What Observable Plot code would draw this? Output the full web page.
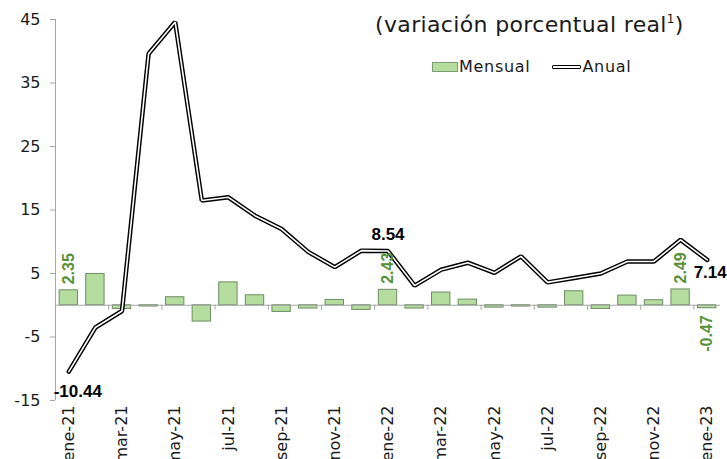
<!DOCTYPE html>
<html><head><meta charset="utf-8">
<script src="https://cdn.jsdelivr.net/npm/d3@7"></script>
<script src="https://cdn.jsdelivr.net/npm/@observablehq/plot@0.6"></script>
<style>
body{margin:0;background:#fff;}
#wrap{position:relative;width:727px;height:459px;overflow:hidden;font-family:"DejaVu Sans",sans-serif;color:#1a1a1a;}
#title{position:absolute;left:375px;top:12px;font-size:22px;letter-spacing:0.35px;white-space:nowrap;}
#title sup{font-size:12px;vertical-align:9px;}
#legend{position:absolute;left:432px;top:57px;font-size:16px;letter-spacing:0.7px;white-space:nowrap;display:flex;align-items:center;}
.sw1{display:inline-block;width:24px;height:8px;background:#b5dd9f;border:1px solid #7e9c72;margin-right:1px;}
.sw2{display:inline-block;width:27px;height:2px;background:#fff;border:1.5px solid #000;border-radius:1px;margin-left:22px;margin-right:1px;}
#chart{position:absolute;left:0;top:0;}
</style></head>
<body>
<div id="wrap">
<div id="chart"></div>
<div id="title">(variación porcentual real<sup>1</sup>)</div>
<div id="legend"><span class="sw1"></span>Mensual<span class="sw2"></span>Anual</div>
</div>
<script>
const months = ["ene-21","feb-21","mar-21","abr-21","may-21","jun-21","jul-21","ago-21","sep-21","oct-21","nov-21","dic-21",
  "ene-22","feb-22","mar-22","abr-22","may-22","jun-22","jul-22","ago-22","sep-22","oct-22","nov-22","dic-22","ene-23"];
const mensual = [2.35, 4.93, -0.58, -0.2, 1.26, -2.57, 3.6, 1.57, -1.05, -0.52, 0.84, -0.73,
  2.43, -0.52, 2.0, 0.89, -0.37, -0.2, -0.37, 2.2, -0.58, 1.52, 0.79, 2.49, -0.47];
const anual = [-10.44, -3.5, -0.9, 39.6, 44.6, 16.5, 17.0, 14.1, 12.0, 8.4, 6.0, 8.6,
  8.54, 3.1, 5.6, 6.7, 5.1, 7.7, 3.6, 4.3, 5.0, 6.9, 6.9, 10.3, 7.14];
const tickLabels = ["ene-21","mar-21","may-21","jul-21","sep-21","nov-21","ene-22","mar-22","may-22","jul-22","sep-22","nov-22","ene-23"];
const yTicks = [-15, -5, 5, 15, 25, 35, 45];
const greenUp = ["ene-21","ene-22","dic-22"];
const greenDown = ["ene-23"];

const data = months.map((m, i) => ({m, mensual: mensual[i], anual: anual[i]}));
const gray = "#a6a6a6";
const step = (727 - 55 - 7) / months.length;

const chart = Plot.plot({
  width: 727, height: 459,
  marginLeft: 55, marginRight: 7, marginTop: 19, marginBottom: 59,
  style: {fontFamily: "DejaVu Sans, sans-serif", background: "transparent", color: "#1a1a1a", overflow: "visible"},
  x: {domain: months, paddingInner: 0.31, paddingOuter: 0.155, round: false, axis: null, label: null},
  y: {domain: [-15, 45], axis: null, label: null},
  marks: [
    Plot.ruleX([months[0]], {dx: -step / 2, stroke: gray}),
    Plot.axisY(yTicks, {tickSize: 5, tickPadding: 10, stroke: gray, fill: "#1a1a1a", fontSize: 16, tickFormat: d => d, label: null}),
    Plot.axisX(tickLabels, {anchor: "bottom", tickSize: 0, tickPadding: 5, tickRotate: -90, fontSize: 16, fill: "#1a1a1a", label: null}),
    Plot.barY(data, {x: "m", y: "mensual", fill: "#b5dd9f", stroke: "#6f8c64", strokeWidth: 1}),
    Plot.ruleY([0], {stroke: gray}),
    Plot.ruleX(tickLabels, {x: d => d, y1: 0, y2: 0, dx: -step / 2, insetBottom: -5, stroke: gray}),
    Plot.line(data, {x: "m", y: "anual", stroke: "#000", strokeWidth: 4.5, strokeLinejoin: "miter"}),
    Plot.line(data, {x: "m", y: "anual", stroke: "#fff", strokeWidth: 1.6, strokeLinejoin: "miter"}),
    Plot.text(data.filter(d => greenUp.includes(d.m)), {x: "m", y: "mensual", text: d => d.mensual.toFixed(2),
      rotate: -90, textAnchor: "start", dy: -6, fill: "#55913a", fontWeight: "bold", fontSize: 16, fontFamily: "Liberation Sans"}),
    Plot.text(data.filter(d => greenDown.includes(d.m)), {x: "m", y: "mensual", text: d => d.mensual.toFixed(2),
      rotate: -90, textAnchor: "end", dy: 7, fill: "#55913a", fontWeight: "bold", fontSize: 16, fontFamily: "Liberation Sans"}),
    Plot.text(data.filter(d => d.m === "ene-21"), {x: "m", y: "anual", text: d => d.anual.toFixed(2),
      dx: 9, dy: 20, fill: "#000", fontWeight: "bold", fontSize: 17, fontFamily: "Liberation Sans"}),
    Plot.text(data.filter(d => d.m === "ene-22"), {x: "m", y: "anual", text: d => d.anual.toFixed(2),
      dy: -16, fill: "#000", fontWeight: "bold", fontSize: 17, fontFamily: "Liberation Sans"}),
    Plot.text(data.filter(d => d.m === "ene-23"), {x: "m", y: "anual", text: d => d.anual.toFixed(2),
      dx: 3, dy: 13, fill: "#000", fontWeight: "bold", fontSize: 17, fontFamily: "Liberation Sans"})
  ]
});
document.getElementById("chart").appendChild(chart);
</script>
</body></html>
